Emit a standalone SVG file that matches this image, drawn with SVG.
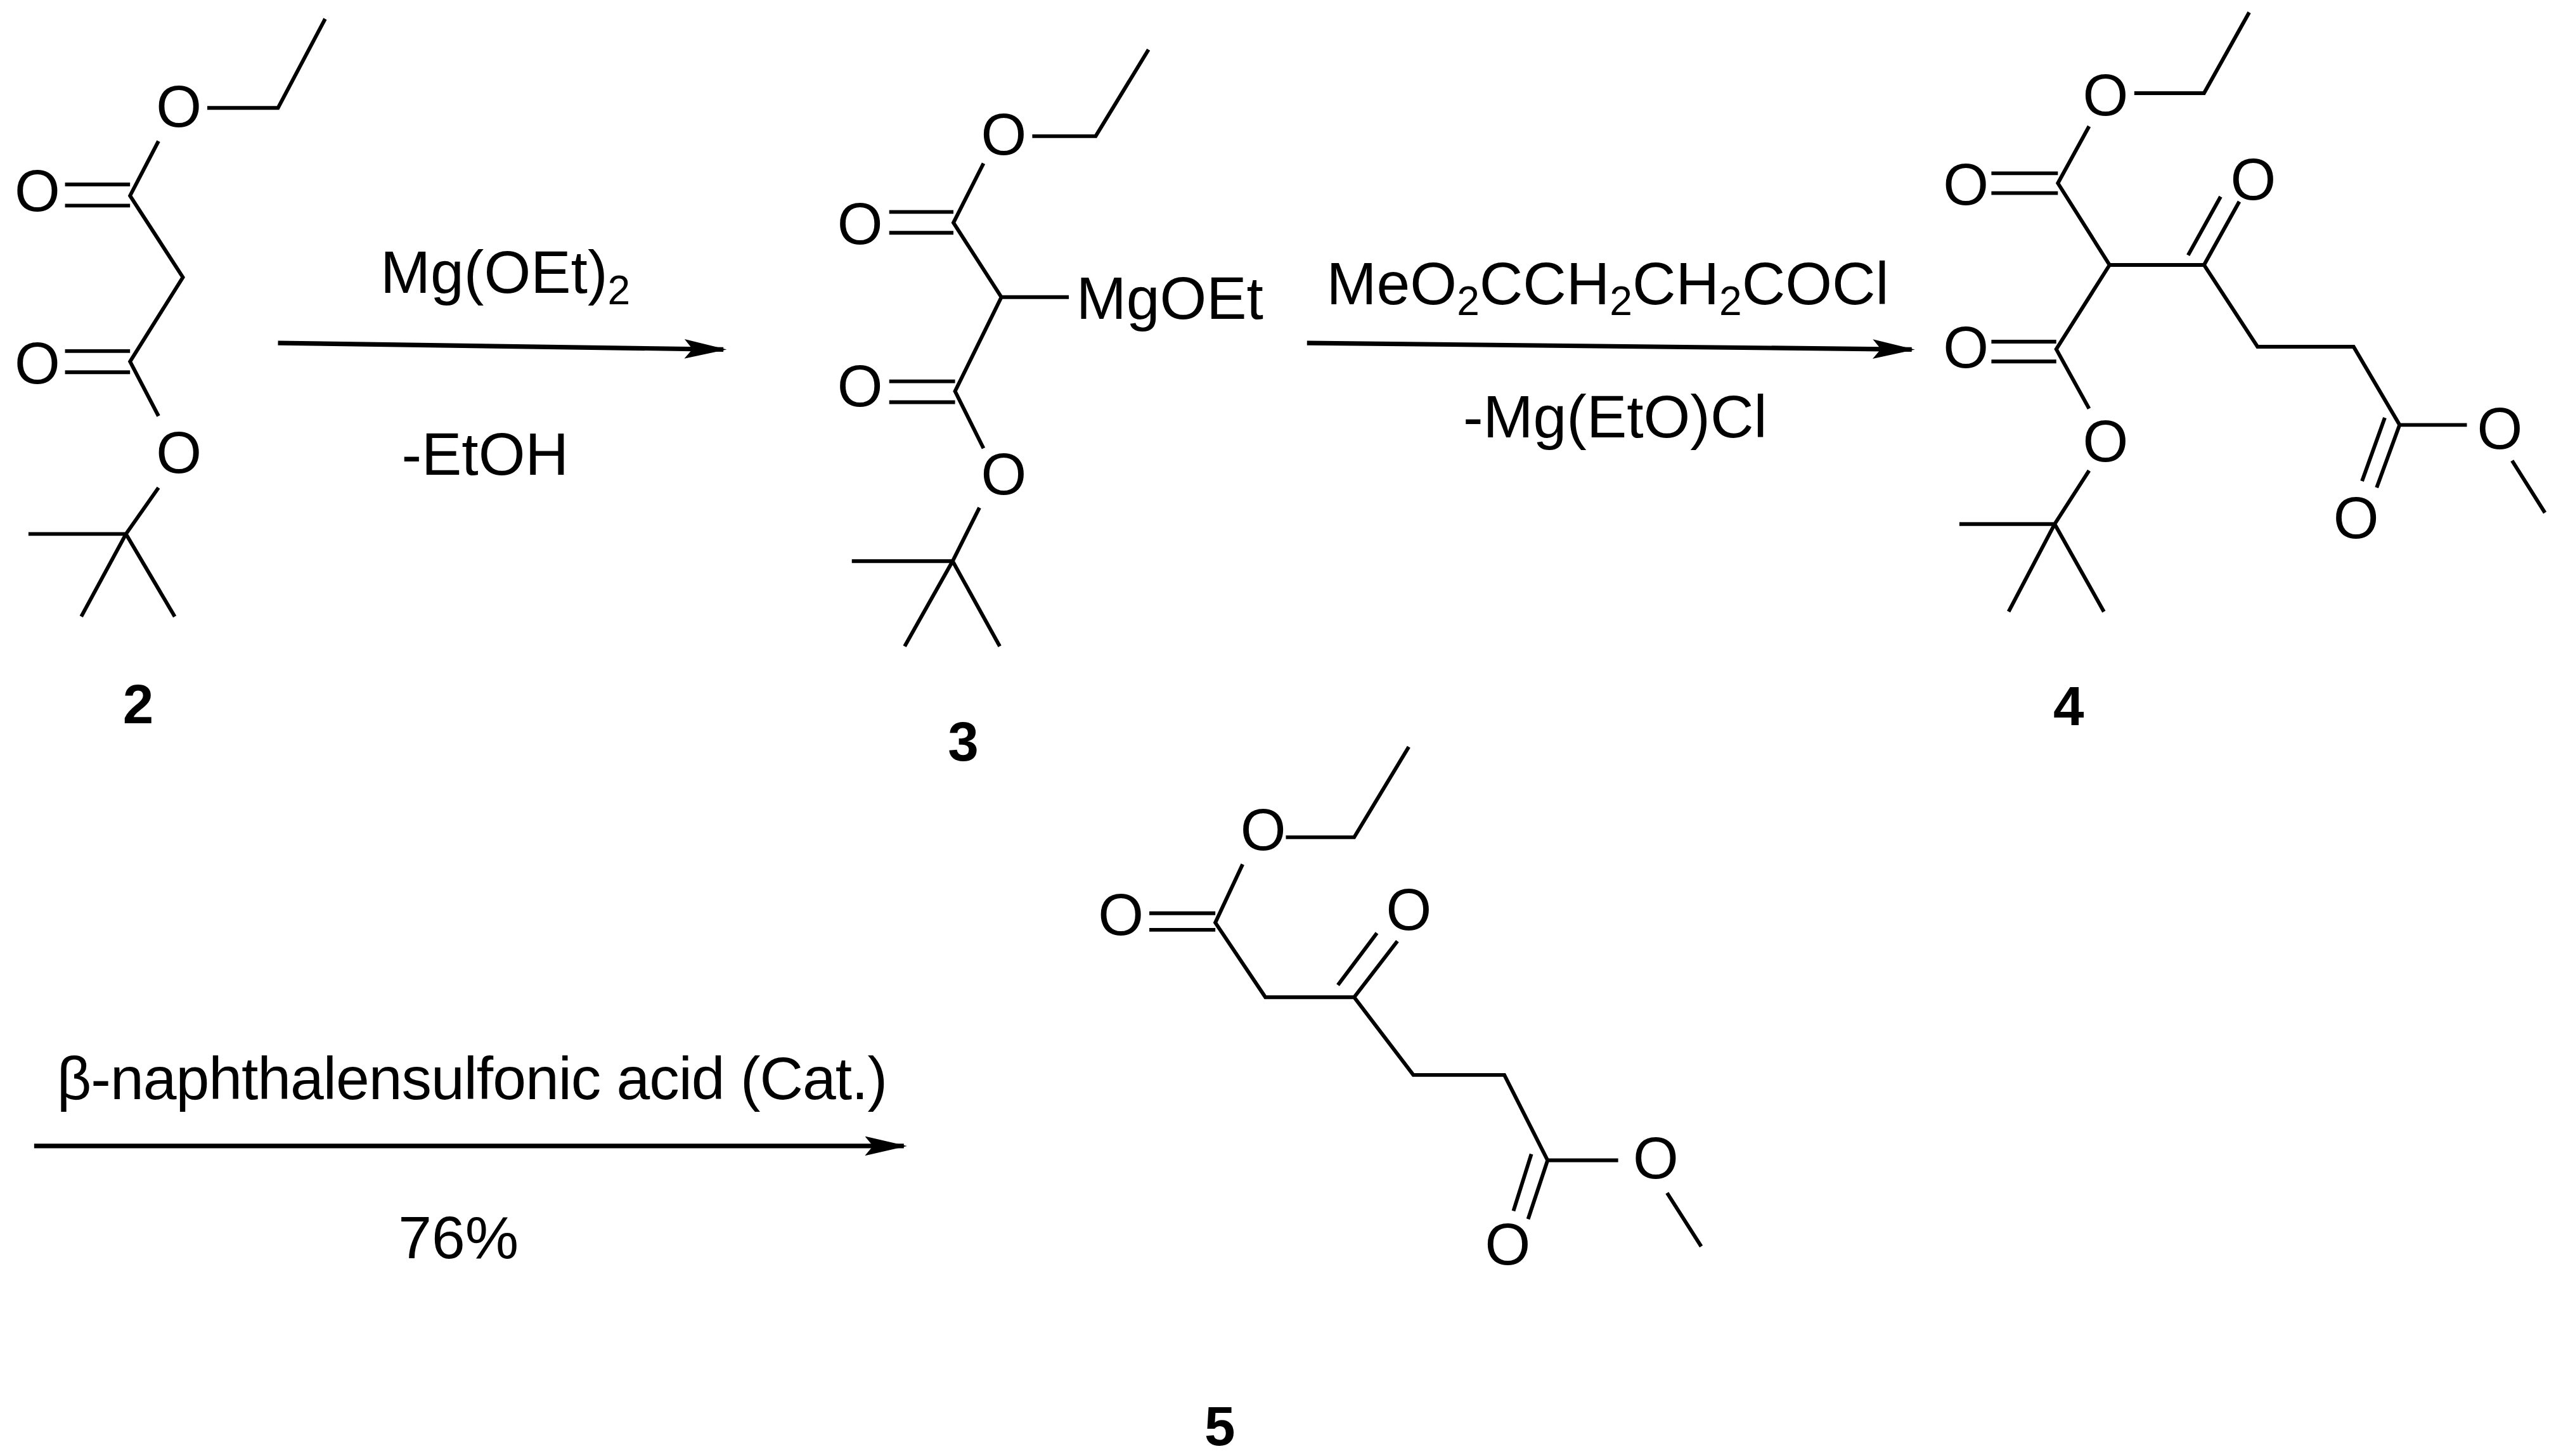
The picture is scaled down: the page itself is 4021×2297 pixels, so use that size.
<svg xmlns="http://www.w3.org/2000/svg" width="4021" height="2297" viewBox="0 0 4021 2297">
<style>
.b{stroke:#000;stroke-width:2.3;fill:none;stroke-linecap:butt;stroke-linejoin:miter}
.r{stroke:#000;stroke-width:2.8;fill:none}
.a{font-family:"Liberation Sans",Arial,sans-serif;font-size:36px;fill:#000;text-anchor:middle}
.t{font-family:"Liberation Sans",Arial,sans-serif;font-size:37px;fill:#000}
.s{font-size:25px}
.n{font-family:"Liberation Sans",Arial,sans-serif;font-size:34px;font-weight:bold;fill:#000;text-anchor:middle}
</style>
<defs><marker id="ah" markerWidth="26" markerHeight="12" refX="24" refY="6" orient="auto" markerUnits="userSpaceOnUse"><path d="M0,0 L26,6 L0,12 L5,6 Z" fill="#000"/></marker></defs>
<rect width="4021" height="2297" fill="#fff"/>
<g transform="scale(2.5644)">
<g id="c2">
<path class="b" d="M200,11.6 L171,66.4 L127.5,66.4 M97.5,86.8 L80,120.4 L112.5,170.6 L80,222.4 L97.5,256 M97.5,300 L77.5,328.5 L17.5,328.5 M77.5,328.5 L50,379.3 M77.5,328.5 L107.5,379.3 M40,113.5 L80,113.5 M40,126.5 L80,126.5 M40,216 L80,216 M40,229 L80,229"/>
<text class="a" x="110" y="78">O</text><text class="a" x="23" y="130">O</text><text class="a" x="23" y="236">O</text><text class="a" x="110" y="291">O</text>
<text class="n" x="85" y="445">2</text>
</g>
<g id="c3">
<path class="b" d="M706.5,30.5 L674,83.8 L635,83.8 M605,100.5 L586.5,137 L616,182.8 L657.5,182.8 M616,182.8 L587.5,240.7 L605,275.8 M602.5,312.3 L586,345.2 L524,345.2 M586,345.2 L556.5,397.6 M586,345.2 L615,397.6 M547,130.4 L586.5,130.4 M547,143.2 L586.5,143.2 M547,234.6 L587.5,234.6 M547,247.4 L587.5,247.4"/>
<text class="a" x="617.5" y="95">O</text><text class="a" x="529" y="150">O</text><text class="a" x="529" y="250">O</text><text class="a" x="617.5" y="304">O</text>
<text class="t" x="662" y="196">MgOEt</text>
<text class="n" x="592.5" y="468">3</text>
</g>
<g id="c4">
<path class="b" d="M1383.6,7.6 L1355.8,57.3 L1312.9,57.3 M1285.1,77.7 L1265.9,112.7 L1297.7,163 L1355.8,163 L1388.7,213.3 L1447.8,213.3 L1476.1,261.4 L1517.5,261.4 M1545.3,283.4 L1565.5,315.4 M1297.7,163 L1264.9,214.8 L1285.1,251.4 M1285.1,289.5 L1263.9,322.4 L1205.3,322.4 M1263.9,322.4 L1235.6,376.3 M1263.9,322.4 L1294.2,376.3 M1225,106.6 L1265.9,106.6 M1225,118.8 L1265.9,118.8 M1225,210.2 L1264.9,210.2 M1225,222.4 L1264.9,222.4 M1355.8,163 L1377.5,124 M1346,157 L1366,121 M1476.1,261.4 L1462,300 M1467,257 L1453,296"/>
<text class="a" x="1295.2" y="71">O</text><text class="a" x="1209.3" y="126">O</text><text class="a" x="1386.1" y="123">O</text><text class="a" x="1209.3" y="226">O</text><text class="a" x="1295.2" y="284">O</text><text class="a" x="1537.7" y="276">O</text><text class="a" x="1449.3" y="331">O</text>
<text class="n" x="1272.5" y="446">4</text>
</g>
<g id="c5">
<path class="b" d="M866.6,459.5 L833,515.1 L791,515.1 M764.4,531.7 L747.6,567.6 L778.4,613.5 L833,613.5 L869.4,661.3 L925.4,661.3 L952,713.8 L995.4,713.8 M1025.5,733.9 L1046.5,766.8 M707,561.8 L747.6,561.8 M707,572 L747.6,572 M833,613.5 L859.6,579 M823,606 L847,574 M952,713.8 L940,750 M942,710 L931,745"/>
<text class="a" x="777" y="523">O</text><text class="a" x="689.5" y="575">O</text><text class="a" x="866.6" y="572">O</text><text class="a" x="1018.5" y="725">O</text><text class="a" x="927.5" y="778">O</text>
<text class="n" x="750.4" y="889">5</text>
</g>
<g id="connectors">
<line class="r" x1="171" y1="211" x2="445" y2="215" marker-end="url(#ah)"/>
<line class="r" x1="804" y1="211" x2="1176" y2="215" marker-end="url(#ah)"/>
<line class="r" x1="21" y1="705" x2="556" y2="705" marker-end="url(#ah)"/>
</g>
<g id="labels">
<text class="t" x="234" y="180">Mg(OEt)<tspan class="s" dy="7">2</tspan></text>
<text class="t" x="247" y="292">-EtOH</text>
<text class="t" x="816" y="187">MeO<tspan class="s" dy="7">2</tspan><tspan dy="-7">CCH</tspan><tspan class="s" dy="7">2</tspan><tspan dy="-7">CH</tspan><tspan class="s" dy="7">2</tspan><tspan dy="-7">COCl</tspan></text>
<text class="t" x="900" y="269">-Mg(EtO)Cl</text>
<text class="t" x="35" y="676" textLength="511">β-naphthalensulfonic acid (Cat.)</text>
<text class="t" x="245" y="774">76%</text>
</g>
</g>
</svg>
